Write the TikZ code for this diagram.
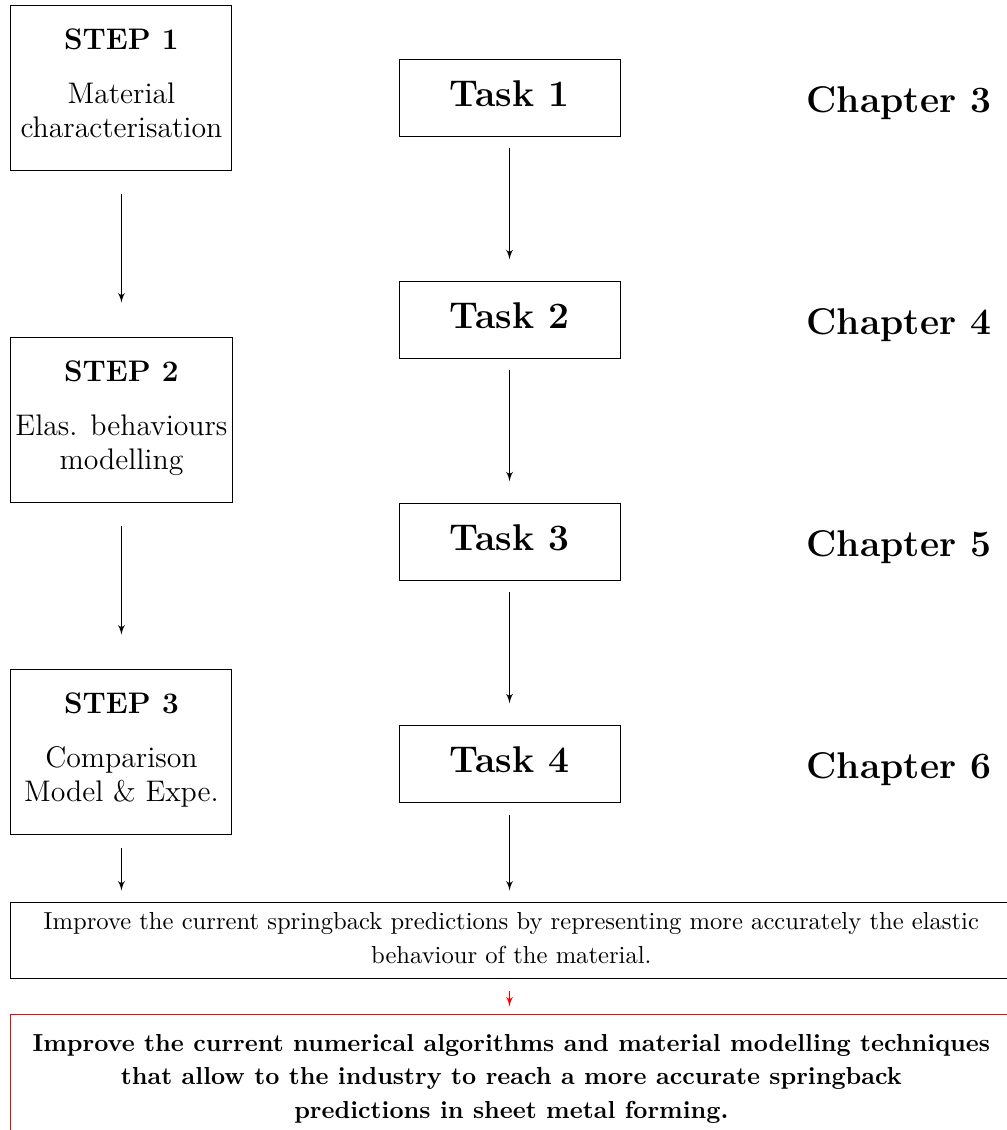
\documentclass[tikz,border=0pt]{standalone}
\usepackage{tikz}
\usetikzlibrary{arrows, positioning}

\begin{document}
\begin{tikzpicture}[node distance=60pt, auto,
    stepbox/.style={rectangle, draw, align=center, inner xsep=2pt, minimum width=92.1pt, minimum height=68.75pt, text height=41.8pt, text depth=0pt, font=\fontsize{12.4}{14.2}\selectfont},
    taskbox/.style={rectangle, draw, text centered, minimum width=92.1pt, minimum height=32.1pt, text height=10.6pt, text depth=3.5pt, font=\fontsize{15.5}{18}\selectfont\bfseries},
    chapter/.style={text height=12.1pt, text depth=0pt, font=\fontsize{15.5}{18}\selectfont\bfseries},
    goalbox/.style={rectangle, draw, align=center, minimum width=417pt, minimum height=32pt, text height=18.8pt, text depth=0pt, font=\fontsize{10.25}{14}\selectfont},
    resultbox/.style={rectangle, draw=red, align=center, minimum width=417pt, inner ysep=8pt, font=\bfseries\fontsize{10.25}{14}\selectfont},
    leftarrow/.style={-latex', shorten <=9.6pt, shorten >=14.2pt},
    midarrow/.style={-latex', shorten <=4.6pt, shorten >=9.2pt}]

    \useasboundingbox (0,0) rectangle (419.17pt,-470.83pt);

    % steps
    \node [stepbox] (step1) at (50.6pt,-36.5pt) {\textbf{STEP 1}\\[8.5pt] Material\\ characterisation};
    \node [stepbox, below=69.2pt of step1] (step2) {\textbf{STEP 2}\\[8.5pt] Elas. behaviours\\ modelling};
    \node [stepbox, below=69.2pt of step2] (step3) {\textbf{STEP 3}\\[8.5pt] Comparison\\ Model \& Expe.};

    % tasks
    \node [taskbox] (task1) at (212.3pt,-41pt) {Task 1};
    \node [taskbox, below=of task1] (task2) {Task 2};
    \node [taskbox, below=of task2] (task3) {Task 3};
    \node [taskbox, below=of task3] (task4) {Task 4};

    % chapters
    \node [chapter, right=74pt of task1] (ch3) {Chapter 3};
    \node [chapter, right=74pt of task2] (ch4) {Chapter 4};
    \node [chapter, right=74pt of task3] (ch5) {Chapter 5};
    \node [chapter, right=74pt of task4] (ch6) {Chapter 6};

    % objectives
    \node [goalbox, below=27.9pt of step3.south west, anchor=north west] (goal) {Improve the current springback predictions by representing more accurately the elastic\\ behaviour of the material.};
    \node [resultbox, below=14.6pt of goal.south west, anchor=north west] (result) {Improve the current numerical algorithms and material modelling techniques\\ that allow to the industry to reach a more accurate springback\\ predictions in sheet metal forming.};

    \draw [leftarrow] (step1) -- (step2);
    \draw [leftarrow] (step2) -- (step3);
    \draw [midarrow] (task1) -- (task2);
    \draw [midarrow] (task2) -- (task3);
    \draw [midarrow] (task3) -- (task4);
    \draw [-latex', shorten <=5.4pt, shorten >=4.6pt] (step3) -- (step3 |- goal.north);
    \draw [-latex', shorten <=5pt, shorten >=4.6pt] (task4) -- (task4 |- goal.north);
    \draw [-latex', red, shorten <=5pt, shorten >=3.3pt] (task4 |- goal.south) -- (task4 |- result.north);
\end{tikzpicture}
\end{document}
